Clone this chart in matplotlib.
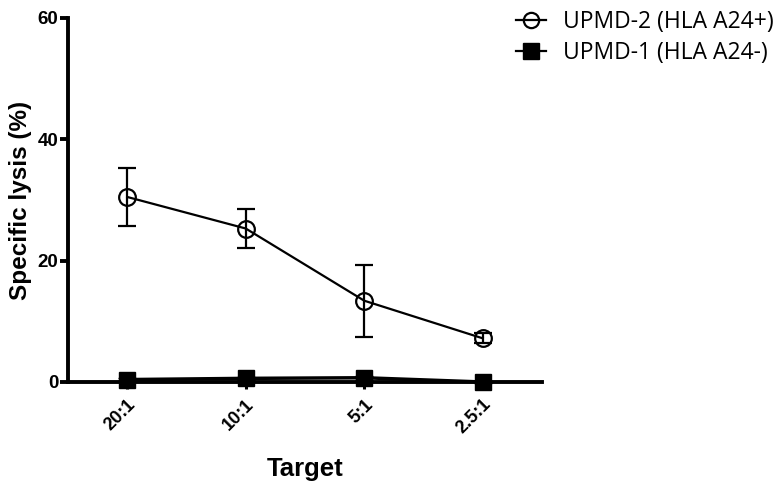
import matplotlib
matplotlib.use("Agg")
import matplotlib.pyplot as plt
from matplotlib.lines import Line2D
import numpy as np

categories = ["20:1", "10:1", "5:1", "2.5:1"]
upmd2_mean = [30.5, 25.3, 13.4, 7.2]
upmd2_err = [4.8, 3.2, 5.9, 0.8]
upmd1_mean = [0.4, 0.6, 0.7, 0.0]
upmd1_err = [0.3, 0.3, 0.3, 0.2]
yticks = [0, 20, 40, 60]
labels = ["UPMD-2 (HLA A24+)", "UPMD-1 (HLA A24-)"]

fig = plt.figure(figsize=(7.83, 4.83), dpi=100)
ax = fig.add_axes([68/783, 1-382/483, (542-68)/783, (382-18)/483])

x = np.arange(len(categories))
ax.errorbar(x, upmd2_mean, yerr=upmd2_err, color="black", lw=1.6,
            marker="o", markersize=12, markerfacecolor="none",
            markeredgewidth=1.6, capsize=6.5, capthick=1.6, elinewidth=1.6,
            zorder=4)
ax.errorbar(x, upmd1_mean, yerr=upmd1_err, color="black", lw=2.5,
            marker="s", markersize=11, markerfacecolor="black",
            markeredgewidth=1, capsize=6.5, capthick=1.6, elinewidth=1.6,
            zorder=5, clip_on=False)

ax.set_xlim(-0.5, 3.5)
ax.set_ylim(0, 60)
ax.set_yticks(yticks)
ax.set_xticks(x)
ax.set_xticklabels(categories, rotation=45, ha="right", rotation_mode="anchor",
                   fontsize=13, fontweight="bold", family="Liberation Sans")
ax.set_yticklabels([str(v) for v in yticks], fontsize=13.5, fontweight="bold",
                   family="Liberation Sans")

for s in ["top", "right"]:
    ax.spines[s].set_visible(False)
for s in ["left", "bottom"]:
    ax.spines[s].set_linewidth(2.8)

ax.tick_params(axis="y", length=6, width=2.8, pad=1)
ax.tick_params(axis="x", length=5, width=2.2, pad=5)

ax.set_ylabel("Specific lysis (%)", fontsize=17.5, fontweight="bold",
              family="Liberation Sans", labelpad=4)
ax.set_xlabel("Target", fontsize=18.5, fontweight="bold",
              family="Liberation Sans", labelpad=14)

h2 = Line2D([], [], color="black", lw=1.6, marker="o", markersize=11,
            markerfacecolor="none", markeredgewidth=1.6)
h1 = Line2D([], [], color="black", lw=1.6, marker="s", markersize=11,
            markerfacecolor="black", markeredgewidth=1)
leg = fig.legend([h2, h1], labels,
                 loc="upper left", bbox_to_anchor=(516/783, 1 - 10/483),
                 frameon=False, handlelength=1.3, handletextpad=0.75,
                 labelspacing=0.3, prop={"family": "Open Sans", "size": 16.5},
                 borderaxespad=0.0, borderpad=0.0)

fig.savefig("out.png", dpi=100)
